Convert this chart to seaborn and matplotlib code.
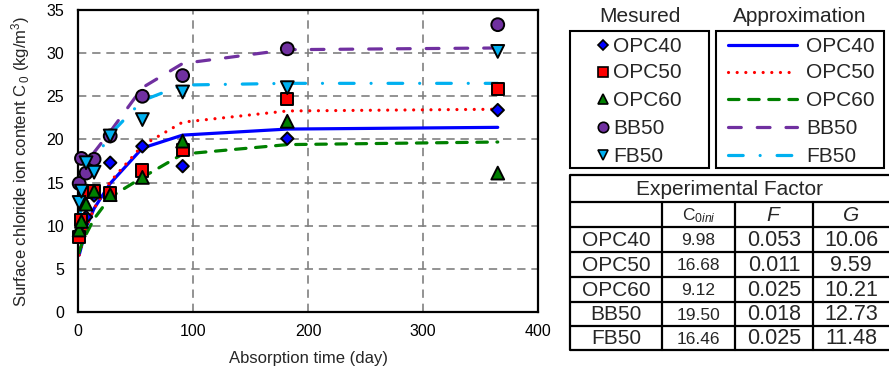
import numpy as np
import pandas as pd
import matplotlib
matplotlib.use("Agg")
import matplotlib.pyplot as plt
import seaborn as sns

# ---------------- data ----------------
mixes = ["OPC40", "OPC50", "OPC60", "BB50", "FB50"]
days = [1, 3, 7, 14, 28, 56, 91, 182, 365]

meas_opc40 = [9.2, 10.2, 11.0, 13.5, 17.3, 19.2, 16.9, 20.1, 23.4]
meas_opc50 = [8.7, 10.7, 13.9, 14.0, 13.8, 16.4, 18.8, 24.7, 25.8]
meas_opc60 = [9.5, 10.5, 12.5, 14.0, 13.6, 15.6, 19.8, 22.1, 16.1]
meas_bb50 = [14.9, 17.8, 16.1, 17.7, 20.4, 25.0, 27.4, 30.5, 33.3]
meas_fb50 = [12.7, 14.0, 17.3, 16.2, 20.4, 22.3, 25.5, 26.0, 30.2]

appr_opc40 = [6.6, 7.6, 9.8, 12.0, 14.9, 19.0, 20.5, 21.2, 21.4]
appr_opc50 = [6.6, 7.6, 9.8, 12.0, 15.1, 19.3, 22.0, 23.3, 23.5]
appr_opc60 = [6.9, 7.8, 9.0, 10.8, 13.3, 15.6, 18.3, 19.4, 19.7]
appr_bb50 = [12.0, 15.0, 17.0, 18.5, 20.9, 26.0, 28.8, 30.4, 30.6]
appr_fb50 = [10.5, 12.5, 14.5, 17.5, 20.6, 24.5, 26.3, 26.5, 26.5]

table_title = "Experimental Factor"
table_cols = ["", r"C$_{0\mathit{ini}}$", r"$\mathit{F}$", r"$\mathit{G}$"]
c0ini_vals = ["9.98", "16.68", "9.12", "19.50", "16.46"]
f_vals = ["0.053", "0.011", "0.025", "0.018", "0.025"]
g_vals = ["10.06", "9.59", "10.21", "12.73", "11.48"]

colors = {"OPC40": "#0000FF", "OPC50": "#FF0000", "OPC60": "#008000",
          "BB50": "#7030A0", "FB50": "#00B0F0"}
markers = {"OPC40": "D", "OPC50": "s", "OPC60": "^", "BB50": "o", "FB50": "v"}
msizes = {"OPC40": 40, "OPC50": 75, "OPC60": 85, "BB50": 85, "FB50": 85}
dashes = {"OPC40": "", "OPC50": (0.01, 2.7), "OPC60": (3.3, 3.0),
          "BB50": (4.0, 5.0), "FB50": (4.6, 5.3, 0.01, 5.3)}

meas_all = [meas_opc40, meas_opc50, meas_opc60, meas_bb50, meas_fb50]
appr_all = [appr_opc40, appr_opc50, appr_opc60, appr_bb50, appr_fb50]

df_meas = pd.DataFrame([(m, d, v) for m, vals in zip(mixes, meas_all)
                        for d, v in zip(days, vals)], columns=["Mix", "Day", "C"])
df_appr = pd.DataFrame([(m, d, v) for m, vals in zip(mixes, appr_all)
                        for d, v in zip(days, vals)], columns=["Mix", "Day", "C"])

# ---------------- style ----------------
sns.set_style("white")
plt.rcParams["font.family"] = ["Liberation Sans", "DejaVu Sans"]
plt.rcParams["mathtext.fontset"] = "custom"
plt.rcParams["mathtext.rm"] = "Liberation Sans"
plt.rcParams["mathtext.it"] = "Liberation Sans:italic"
plt.rcParams["mathtext.bf"] = "Liberation Sans:bold"

W, H = 889, 381
fig = plt.figure(figsize=(W / 100, H / 100), dpi=100)
ax = fig.add_axes([78 / W, 69 / H, 460 / W, 302 / H])

sns.lineplot(data=df_appr, x="Day", y="C", hue="Mix", style="Mix",
             palette=colors, dashes=dashes, hue_order=mixes, style_order=mixes,
             estimator=None, sort=False, linewidth=2.3,
             dash_capstyle="round", legend=False, ax=ax, zorder=2)

sns.scatterplot(data=df_meas, x="Day", y="C", hue="Mix", style="Mix", size="Mix",
                palette=colors, markers=markers, sizes=msizes, hue_order=mixes,
                style_order=mixes, size_order=mixes, edgecolor="black",
                linewidth=1.4, legend=False, ax=ax, zorder=3, clip_on=False)

ax.set_xlim(0, 400)
ax.set_ylim(0, 35)
ax.set_xticks(range(0, 401, 100))
ax.set_xticks(range(50, 400, 100), minor=True)
ax.set_yticks(range(0, 36, 5))
ax.grid(True, which="major", color="#808080", linestyle=(0, (5, 3.5)), linewidth=1.2)
ax.set_axisbelow(True)
for s in ax.spines.values():
    s.set_color("black")
    s.set_linewidth(1.6)
ax.tick_params(axis="both", which="both", direction="in", length=5, width=1.2,
               colors="black", labelsize=11.5)
ax.tick_params(axis="x", pad=9)
ax.tick_params(axis="y", pad=10)
ax.set_xlabel("Absorption time (day)", fontsize=12)
ax.set_ylabel(r"Surface chloride ion content C$_{\,0}$ (kg/m$^{3}$)", fontsize=12)
ax.xaxis.set_label_coords(0.5, (312 - 351) / 302)
ax.yaxis.set_label_coords((32 - 78) / 460, 0.5)

# ---------------- overlay: legends and table ----------------
ov = fig.add_axes([0, 0, 1, 1])
ov.set_xlim(0, W)
ov.set_ylim(H, 0)
ov.axis("off")

fs = 15
rows_y = [45, 72, 99, 127, 155]
# measured legend
ov.text(640, 16, "Mesured", fontsize=fs, ha="center", va="center")
ov.add_patch(plt.Rectangle((570, 31), 139, 137, fill=False, ec="black", lw=1.5))
leg_ms = {"OPC40": 5.5, "OPC50": 7, "OPC60": 7, "BB50": 7.5, "FB50": 7}
for m, y in zip(mixes, rows_y):
    ov.plot([603], [y], marker=markers[m], ms=leg_ms[m], mfc=colors[m],
            mec="black", mew=1.2, ls="none")
    ov.text(613, y + 1, m, fontsize=fs, ha="left", va="center")
# approximation legend
ov.text(800, 16, "Approximation", fontsize=fs, ha="center", va="center")
ov.add_patch(plt.Rectangle((716, 31), 168, 137, fill=False, ec="black", lw=1.5))
for m, y in zip(mixes, rows_y):
    ln, = ov.plot([728, 797], [y, y], color=colors[m], lw=2.3, dash_capstyle="round")
    if dashes[m] != "":
        ln.set_dashes(dashes[m])
    ov.text(806, y + 1, m, fontsize=fs, ha="left", va="center")

# table
hy = [175, 202, 227, 252, 277, 302, 326, 350]
vx = [570, 662, 735, 813, 891]
tlw = 1.6
for i, y in enumerate(hy):
    ov.plot([570, 891], [y, y], color="black", lw=tlw, solid_capstyle="butt")
ov.plot([570, 570], [hy[0], hy[-1]], color="black", lw=tlw)
for x in vx[1:]:
    ov.plot([x, x], [hy[1], hy[-1]], color="black", lw=tlw)
ov.text(730, (hy[0] + hy[1]) / 2 + 1, table_title, fontsize=fs, ha="center", va="center")
cx = [(vx[i] + vx[i + 1]) / 2 for i in range(4)]
cx[3] = 851
hdr_fs = [fs, 12.5, fs, fs]
for j, lab in enumerate(table_cols):
    if lab:
        ov.text(cx[j], (hy[1] + hy[2]) / 2 + 1, lab, fontsize=hdr_fs[j],
                ha="center", va="center")
for i, m in enumerate(mixes):
    yc = (hy[i + 2] + hy[i + 3]) / 2 + 1
    ov.text(cx[0], yc, m, fontsize=fs, ha="center", va="center")
    ov.text(cx[1], yc, c0ini_vals[i], fontsize=12.5, ha="center", va="center")
    ov.text(cx[2], yc, f_vals[i], fontsize=15.5, ha="center", va="center")
    ov.text(cx[3], yc, g_vals[i], fontsize=15.5, ha="center", va="center")

fig.savefig("out.png", dpi=100)
